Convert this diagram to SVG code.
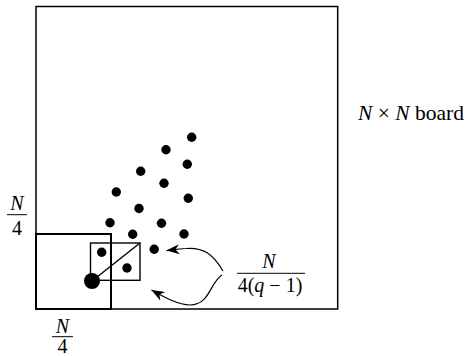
<svg xmlns="http://www.w3.org/2000/svg" width="467" height="356" viewBox="0 0 467 356">
<defs>
<style>
.t{font-family:"Liberation Serif","DejaVu Serif",serif;font-size:20px;fill:#000}
.i{font-style:italic}
.dot{fill:#000}
.ln{fill:none;stroke:#000}
</style>
<marker id="ah" viewBox="-13 -6 14 12" refX="0" refY="0" markerWidth="14" markerHeight="12" markerUnits="userSpaceOnUse" orient="auto">
<path d="M0,0 L-13,-5 L-9,0 L-13,5 Z" fill="#000"/>
</marker>
</defs>
<rect width="467" height="356" fill="#fff"/>
<g id="board">
<rect x="36" y="6.5" width="301.7" height="302.5" class="ln" stroke-width="1.5" stroke="#222"/>
</g>
<g id="quarter">
<rect x="36" y="234" width="75" height="75" class="ln" stroke-width="2"/>
</g>
<g id="cell">
<rect x="90.5" y="243" width="49.5" height="37.3" class="ln" stroke-width="1.4"/>
<line x1="92" y1="281" x2="140" y2="243" class="ln" stroke-width="1.4"/>
</g>
<g id="dots">
<circle cx="92" cy="281" r="8" class="dot"/>
<circle cx="101.7" cy="252.3" r="4.7" class="dot"/>
<circle cx="127" cy="268" r="4.7" class="dot"/>
<circle cx="191.7" cy="137.3" r="4.7" class="dot"/>
<circle cx="166" cy="149.7" r="4.7" class="dot"/>
<circle cx="187.3" cy="164.3" r="4.7" class="dot"/>
<circle cx="140.7" cy="171.3" r="4.7" class="dot"/>
<circle cx="164" cy="183.3" r="4.7" class="dot"/>
<circle cx="116.3" cy="192" r="4.7" class="dot"/>
<circle cx="188.3" cy="198.3" r="4.7" class="dot"/>
<circle cx="139" cy="208.5" r="4.7" class="dot"/>
<circle cx="110" cy="222.7" r="4.7" class="dot"/>
<circle cx="161.5" cy="223.3" r="4.7" class="dot"/>
<circle cx="132.7" cy="234.3" r="4.7" class="dot"/>
<circle cx="184" cy="234" r="4.7" class="dot"/>
<circle cx="154.2" cy="249.2" r="4.7" class="dot"/>
</g>
<g id="connectors">
<path d="M223,271 C213,254 203,247 186,248.5 C178,249 172,250 166.5,250.6" class="ln" stroke-width="1.2" marker-end="url(#ah)"/>
<path d="M222,275 C210,282 210,305 190,305 C178,305 164,297 151.5,290" class="ln" stroke-width="1.2" marker-end="url(#ah)"/>
</g>
<g id="label-board">
<text x="358" y="120" class="t" style="font-size:21.5px"><tspan class="i">N</tspan> × <tspan class="i">N</tspan> board</text>
</g>
<g id="label-left">
<text x="17" y="210" class="t i" text-anchor="middle">N</text>
<line x1="7" y1="214.7" x2="27" y2="214.7" class="ln" stroke-width="1"/>
<text x="17" y="235" class="t" text-anchor="middle">4</text>
</g>
<g id="label-bottom">
<text x="62.5" y="333" class="t i" text-anchor="middle">N</text>
<line x1="52" y1="336.7" x2="73" y2="336.7" class="ln" stroke-width="1"/>
<text x="62.5" y="353" class="t" text-anchor="middle">4</text>
</g>
<g id="label-step">
<text x="269" y="268" class="t i" text-anchor="middle">N</text>
<line x1="237" y1="273.3" x2="305" y2="273.3" class="ln" stroke-width="1"/>
<text x="270" y="292" class="t" text-anchor="middle">4(<tspan class="i">q</tspan> − 1)</text>
</g>
</svg>
